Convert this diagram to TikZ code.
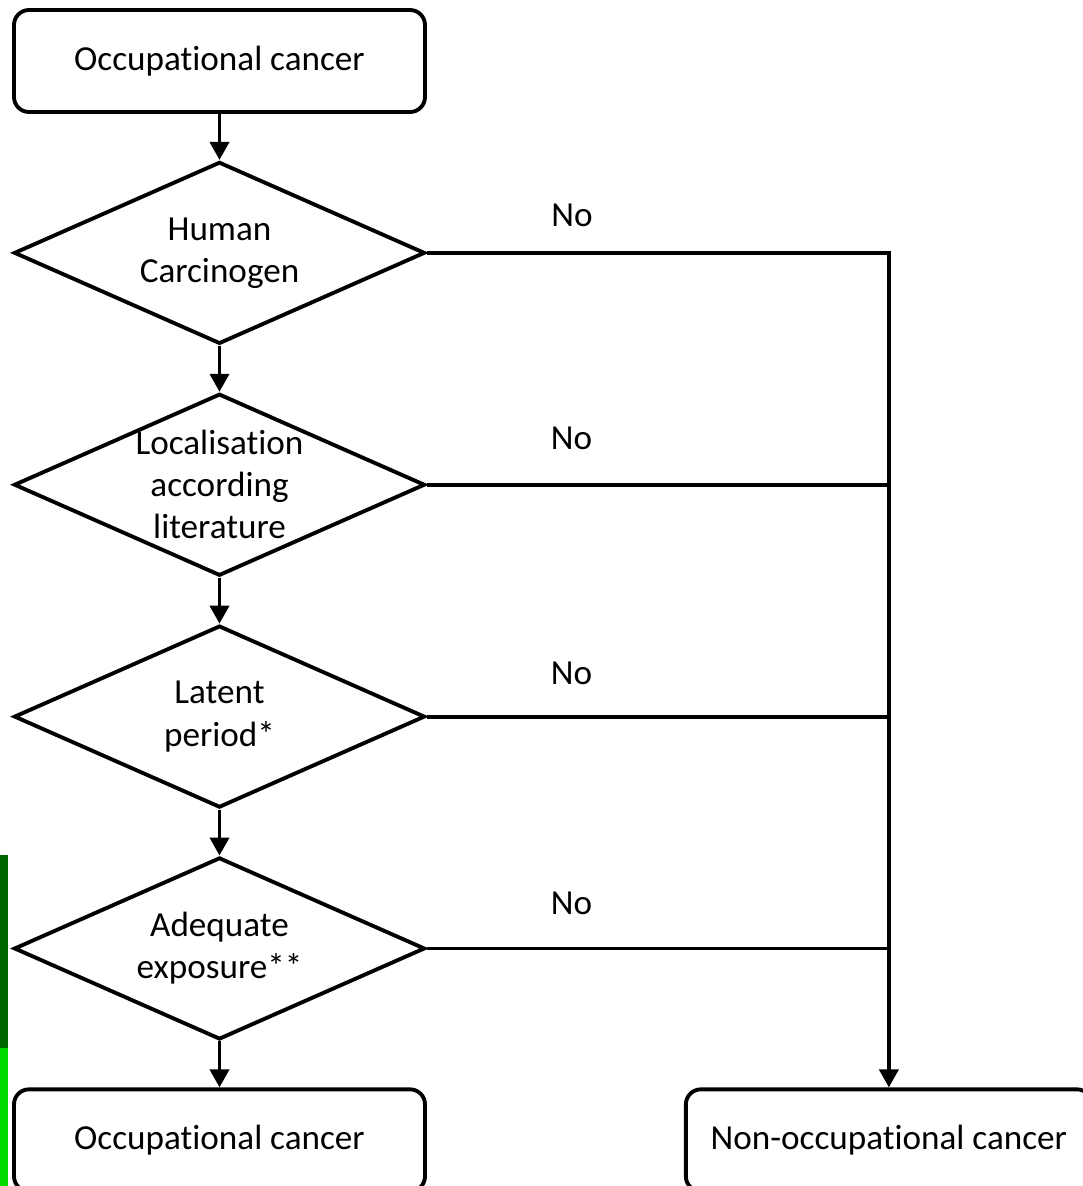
\documentclass[tikz,border=0pt]{standalone}
\usepackage{fontspec}
\setmainfont{Carlito}[Ligatures=CommonOff]
\usetikzlibrary{shapes.geometric, positioning, arrows.meta}
\definecolor{darkbar}{RGB}{0,100,0}
\definecolor{lightbar}{RGB}{0,220,0}

\begin{document}
\begin{tikzpicture}[
			nodes = {
				align = center,
				font=\fontsize{20}{24}\selectfont
			},
			block/.style={
				draw,
				rectangle,
				rounded corners=0.3cm,
				minimum width=8.22cm,
				minimum height=2.04cm,
				line width=2.2pt
			},
			decision/.style={
				draw,
				diamond,
				minimum width=8.22cm,
				minimum height=3.64cm,
				line width=2.2pt
			},
			lines/.style={
				line width=2.2pt,
				>={Triangle[width=0.38cm,length=0.36cm]}
			}
		]
			\useasboundingbox (0,0) rectangle (21.64,-23.72);

			% green strip at the left edge
			\fill[darkbar] (0,-17.1) rectangle (0.16,-20.96);
			\fill[lightbar] (0,-20.96) rectangle (0.16,-23.72);

			\node[block] (start) at (4.39,-1.22) {Occupational cancer};

			\node[decision, label=center:{Human\\Carcinogen}]
				(carc) [below=0.92cm of start] {};

			\node[decision, label=center:{Localisation\\according\\literature}]
				(loc) [below=0.92cm of carc] {};

			\node[decision, label=center:{Latent\\period*}]
				(lat) [below=0.92cm of loc] {};

			\node[decision, label=center:{Adequate\\exposure**}]
				(adeq) [below=0.92cm of lat] {};

			\node[block] (occ) [below=0.92cm of adeq] {Occupational cancer};

			\node[block, minimum width=8.12cm]
				(nonocc) [right=5.14cm of occ] {Non-occupational cancer};

			\draw[lines,->] (start) -- (carc);
			\draw[lines,->] (carc) -- (loc);
			\draw[lines,->] (loc) -- (lat);
			\draw[lines,->] (lat) -- (adeq);
			\draw[lines,->] (adeq) -- (occ);

			% the "No" branches
			\draw[lines,->] (carc.east) -| (nonocc.north)
				node[pos=0.157, yshift=0.76cm] {No};
			\draw[lines] (loc.east) -- (loc.east -| nonocc.north)
				node[pos=0.313, yshift=0.92cm] {No};
			\draw[lines] (lat.east) -- (lat.east -| nonocc.north)
				node[pos=0.313, yshift=0.86cm] {No};
			\draw[lines] (adeq.east) -- (adeq.east -| nonocc.north)
				node[pos=0.313, yshift=0.9cm] {No};
		\end{tikzpicture}
\end{document}
